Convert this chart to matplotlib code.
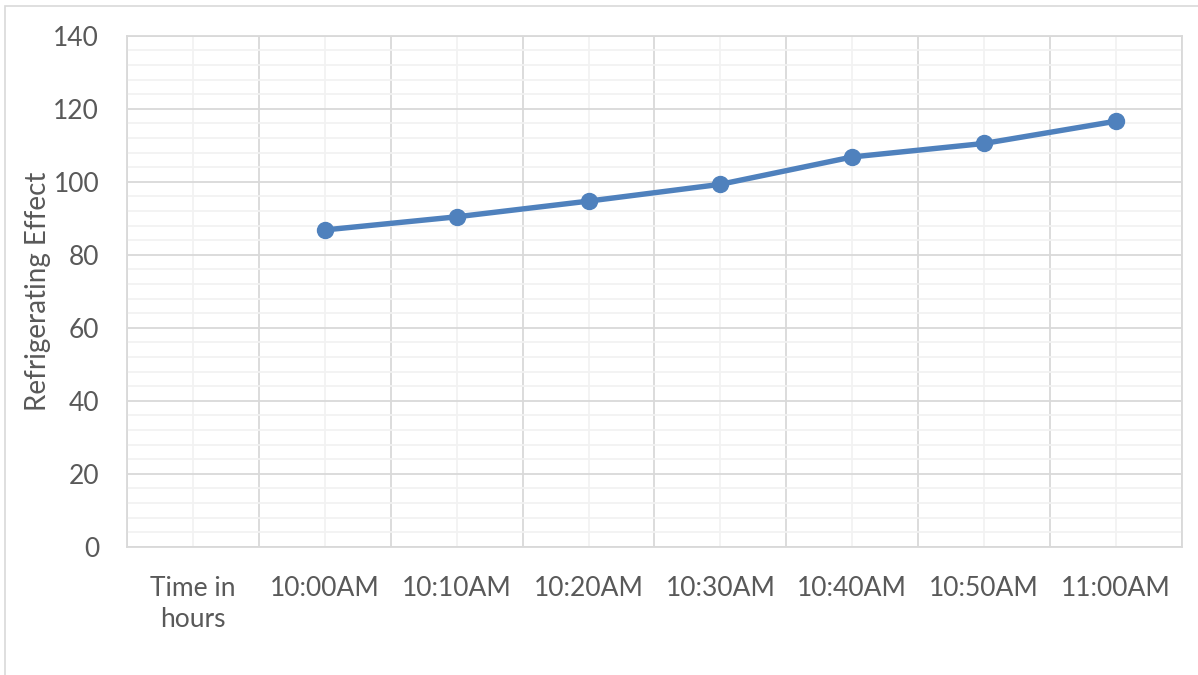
import matplotlib.pyplot as plt
from matplotlib.patches import Rectangle
from matplotlib.ticker import MultipleLocator, FixedLocator

plt.rcParams['font.family'] = ['Lato', 'DejaVu Sans']

# time slots on the category axis (first slot is the axis caption, no reading)
categories = ['Time in\nhours', '10:00AM', '10:10AM', '10:20AM', '10:30AM',
              '10:40AM', '10:50AM', '11:00AM']
refrigerating_effect = [None, 86.8, 90.4, 94.7, 99.3, 106.8, 110.5, 116.6]

text_col = '#595959'
major_col = '#d9d9d9'
minor_col = '#f2f2f2'
line_col = '#4f81bd'

fig = plt.figure(figsize=(11.98, 6.75), dpi=100)
ax = fig.add_axes([0.106, 0.19, 0.8806, 0.757])

# chart frame (runs off the right and bottom edge)
fig.add_artist(Rectangle((5 / 1198, -0.05), 1.1, 0.05 + (675 - 6) / 675,
                         transform=fig.transFigure, fill=False,
                         edgecolor='#d9d9d9', linewidth=1.2))

xs = [i for i, v in enumerate(refrigerating_effect) if v is not None]
ys = [v for v in refrigerating_effect if v is not None]
ax.plot(xs, ys, color=line_col, linewidth=3.9, marker='o', markersize=11.5,
        solid_capstyle='round', zorder=5)

ax.set_xlim(-0.5, len(categories) - 0.5)
ax.set_ylim(0, 140)

ax.yaxis.set_major_locator(MultipleLocator(20))
ax.yaxis.set_minor_locator(MultipleLocator(4))
ax.set_xticks(range(len(categories)))
ax.set_xticklabels(categories, fontsize=19, color=text_col, linespacing=1.3)
ax.xaxis.set_minor_locator(FixedLocator([i - 0.5 for i in range(len(categories) + 1)]))

# category centres get the faint lines, boundaries the darker ones
ax.grid(True, axis='y', which='major', color=major_col, linewidth=1.3)
ax.grid(True, axis='y', which='minor', color=minor_col, linewidth=1.3)
ax.grid(True, axis='x', which='minor', color=major_col, linewidth=1.3)
ax.grid(True, axis='x', which='major', color=minor_col, linewidth=1.3)
ax.set_axisbelow(True)

ax.tick_params(axis='both', which='both', length=0)
ax.tick_params(axis='y', labelsize=19, labelcolor=text_col, pad=20)
ax.tick_params(axis='x', pad=21)

for side in ['left', 'bottom', 'right', 'top']:
    ax.spines[side].set_color(major_col)
    ax.spines[side].set_linewidth(1.3)

ax.set_ylabel('Refrigerating Effect', fontsize=20, color=text_col, labelpad=2)

fig.savefig('out.png', dpi=100)
